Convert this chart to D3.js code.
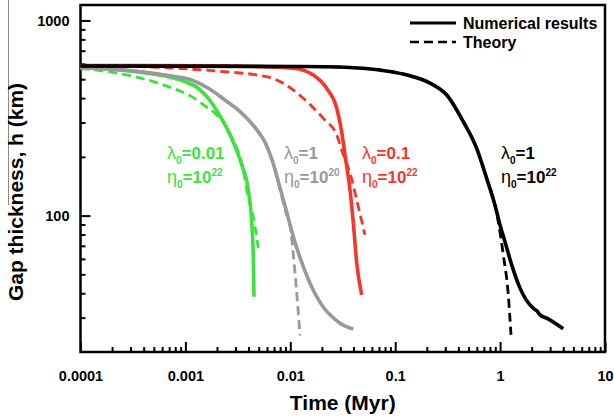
<!DOCTYPE html>
<html><head><meta charset="utf-8">
<script src="https://cdn.jsdelivr.net/npm/d3@7"></script>
<style>
body{margin:0;background:#fff;}
text{font-family:"Liberation Sans",Arial,Helvetica,sans-serif;}
</style></head>
<body>
<svg id="c" width="614" height="418"></svg>
<script>
// ---- data (Time in Myr, gap thickness h in km) ----
const xTicks = [1e-4, 1e-3, 1e-2, 1e-1, 1, 10];
const xTickLabels = ["0.0001", "0.001", "0.01", "0.1", "1", "10"];
const yTicks = [100, 1000];
const yTickLabels = ["100", "1000"];

const greenNum = [[1e-4,571],[1.84e-4,564],[3.83e-4,542],[6.87e-4,515],[9.91e-4,486],[1.327e-3,449],[1.653e-3,399],[2.06e-3,335],[2.76e-3,249],[3.44e-3,182],[3.98e-3,135],[4.29e-3,91.4],[4.44e-3,61.6],[4.51e-3,38.4]];
const greenTheory = [[1e-4,569],[1.84e-4,546],[3.83e-4,505],[6.87e-4,458],[1.148e-3,407],[1.653e-3,355],[1.915e-3,335],[2.8e-3,249],[3.5e-3,180],[3.98e-3,123],[4.29e-3,107],[4.61e-3,87.8],[4.95e-3,68.1]];
const grayNum = [[1e-4,571],[1.84e-4,565],[3.83e-4,546],[6.87e-4,522],[1.148e-3,495],[1.653e-3,449],[2.385e-3,391],[3.44e-3,335],[4.95e-3,269],[5.8e-3,235],[6.7e-3,193],[8.1e-3,135],[9.3e-3,103],[1.068e-2,78],[1.33e-2,54.8],[1.785e-2,38.4],[2.1e-2,33.5],[2.39e-2,31.0],[3.0e-2,28.0],[3.99e-2,26.2]];
const grayTheory = [[1e-4,571],[1.84e-4,565],[3.83e-4,546],[6.87e-4,522],[1.148e-3,495],[1.653e-3,449],[2.385e-3,391],[3.44e-3,335],[4.95e-3,269],[5.8e-3,235],[6.7e-3,193],[8.0e-3,135],[9.1e-3,103],[9.93e-3,89.6],[1.109e-2,50.8],[1.238e-2,24.3]];
const redNum = [[1e-4,588],[2e-3,586],[5.14e-3,580],[1.068e-2,569],[1.657e-2,525],[2.22e-2,449],[2.77e-2,355],[3.09e-2,269],[3.32e-2,205],[3.71e-2,135],[3.99e-2,91.4],[4.30e-2,57.0],[4.79e-2,39.2]];
const redTheory = [[1e-4,588],[7.96e-4,569],[2.385e-3,546],[5.14e-3,522],[7.15e-3,500],[9.5e-3,460],[1.33e-2,399],[2.064e-2,315],[2.77e-2,259],[3.20e-2,205],[3.71e-2,165],[4.45e-2,111],[5.15e-2,79.6]];
const blackNum = [[1e-4,584],[1.24e-2,581],[3.71e-2,574],[7.16e-2,557],[0.149,515],[0.215,477],[0.31,415],[0.446,303],[0.598,221],[0.745,155],[0.894,113],[0.998,89.6],[1.113,73.5],[1.29,55.9],[1.548,42.5],[2.07,33.5],[2.25,32.4],[2.4,31.0],[2.78,29.8],[4.0,26.3]];
const blackTheory = [[1e-4,584],[1.24e-2,581],[3.71e-2,574],[7.16e-2,557],[0.149,515],[0.215,477],[0.31,415],[0.446,303],[0.598,221],[0.745,155],[0.894,113],[0.961,93.1],[1.073,62.9],[1.197,39.2],[1.27,24.5]];

const seriesNames = ["green", "gray", "red", "black"];
const seriesColors = ["#3ee23e", "#999999", "#f8352c", "#000000"];
const lambdaLabels = ["0.01", "1", "0.1", "1"];
const etaExponents = ["22", "20", "22", "22"];
const legendLabels = ["Numerical results", "Theory"];

// ---- layout ----
const svg = d3.select("#c");
const L = 80.5, R = 605, T = 5, B = 352;
const x = d3.scaleLog().domain([1e-4, 10]).range([L, R]);
const y = d3.scaleLog().domain([20, 1200]).range([B, T]);

// stray gray line at the very left of the figure
svg.append("line").attr("x1", 8.5).attr("x2", 8.5).attr("y1", 0).attr("y2", 205)
  .attr("stroke", "#8a8a8a").attr("stroke-width", 1);

// frame
svg.append("rect").attr("x", L).attr("y", T).attr("width", R - L).attr("height", B - T)
  .attr("fill", "none").attr("stroke", "#000").attr("stroke-width", 2.5);

// minor ticks
const xMinor = [];
for (let e = -4; e < 1; e++) for (let m = 2; m <= 9; m++) xMinor.push(m * Math.pow(10, e));
const yMinor = [];
for (let e = 1; e < 3; e++) for (let m = 2; m <= 9; m++) { const v = m * Math.pow(10, e); if (v > 20 && v < 1200) yMinor.push(v); }

function styleAxis(g) {
  g.select(".domain").remove();
  g.selectAll(".tick line").attr("stroke", "#000").attr("stroke-width", 2);
}
svg.append("g").attr("transform", `translate(0,${B})`)
  .call(d3.axisBottom(x).tickValues(xMinor).tickSize(-5).tickFormat(""))
  .call(styleAxis);
svg.append("g").attr("transform", `translate(0,${B})`)
  .call(d3.axisBottom(x).tickValues(xTicks).tickSize(-10).tickPadding(19)
    .tickFormat((d, i) => xTickLabels[i]))
  .call(styleAxis)
  .selectAll("text").attr("font-size", 14.5).attr("font-weight", "bold").attr("fill", "#000");
svg.append("g").attr("transform", `translate(${L},0)`)
  .call(d3.axisLeft(y).tickValues(yMinor).tickSize(-5).tickFormat(""))
  .call(styleAxis);
svg.append("g").attr("transform", `translate(${L},0)`)
  .call(d3.axisLeft(y).tickValues(yTicks).tickSize(-10).tickPadding(11)
    .tickFormat((d, i) => yTickLabels[i]))
  .call(styleAxis)
  .selectAll("text").attr("font-size", 14.5).attr("font-weight", "bold").attr("fill", "#000");

// axis titles
svg.append("text").attr("x", (L + R) / 2).attr("y", 410).attr("text-anchor", "middle")
  .attr("font-size", 21).attr("font-weight", "bold").text("Time (Myr)");
svg.append("text").attr("transform", "translate(23,192) rotate(-90)").attr("text-anchor", "middle")
  .attr("font-size", 21).attr("font-weight", "bold").text("Gap thickness, h (km)");

// curves
const line = d3.line().x(d => x(d[0])).y(d => y(d[1])).curve(d3.curveMonotoneX);
const num = [greenNum, grayNum, redNum, blackNum];
const theo = [greenTheory, grayTheory, redTheory, blackTheory];
seriesNames.forEach((n, i) => {
  svg.append("path").datum(theo[i]).attr("d", line).attr("fill", "none")
    .attr("stroke", seriesColors[i]).attr("stroke-width", 2.8).attr("stroke-dasharray", "9,5");
  svg.append("path").datum(num[i]).attr("d", line).attr("fill", "none")
    .attr("stroke", seriesColors[i]).attr("stroke-width", 3.6).attr("stroke-linejoin", "round");
});

// series annotations
const labelX = [167, 284, 362, 501];
seriesNames.forEach((n, i) => {
  const c = seriesColors[i];
  const t1 = svg.append("text").attr("x", labelX[i]).attr("y", 159).attr("fill", c)
    .attr("font-size", 17).attr("font-weight", "bold");
  t1.append("tspan").attr("font-weight", "normal").attr("font-size", 18).text("λ");
  t1.append("tspan").attr("font-size", 10).attr("dy", 5).text("0");
  t1.append("tspan").attr("dy", -5).text("=" + lambdaLabels[i]);
  const t2 = svg.append("text").attr("x", labelX[i]).attr("y", 183).attr("fill", c)
    .attr("font-size", 17).attr("font-weight", "bold");
  t2.append("tspan").attr("font-weight", "normal").attr("font-size", 18).text("η");
  t2.append("tspan").attr("font-size", 10).attr("dy", 5).text("0");
  t2.append("tspan").attr("dy", -5).text("=10");
  t2.append("tspan").attr("font-size", 10).attr("dy", -7).text(etaExponents[i]);
});

// legend
const legY = [23, 42];
legendLabels.forEach((lab, i) => {
  svg.append("line").attr("x1", 410).attr("x2", 456).attr("y1", legY[i]).attr("y2", legY[i])
    .attr("stroke", "#000").attr("stroke-width", i === 0 ? 3 : 2.5)
    .attr("stroke-dasharray", i === 0 ? null : "9,5");
  svg.append("text").attr("x", 463).attr("y", legY[i] + 5.5).attr("font-size", 16)
    .attr("font-weight", "bold").text(lab);
});
</script>
</body></html>
